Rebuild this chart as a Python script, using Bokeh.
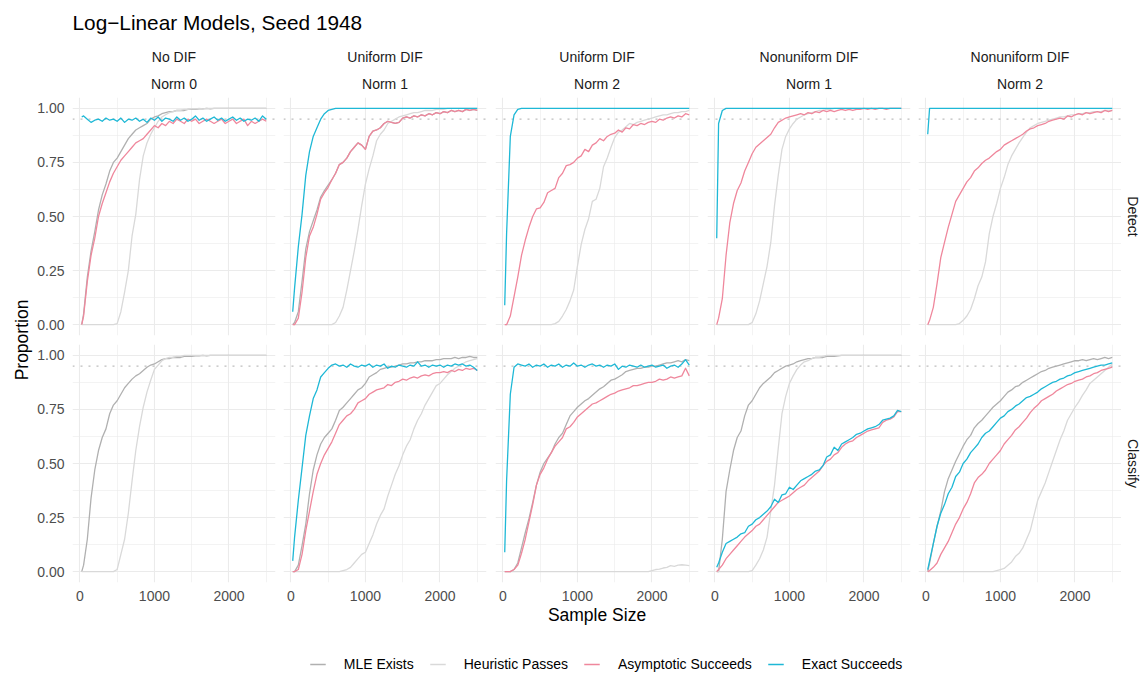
import math
from bokeh.plotting import figure
from bokeh.models import Range1d, FixedTicker, PrintfTickFormatter, Span, Title, Legend, LegendItem
from bokeh.layouts import row, column
from bokeh.embed import file_html
from bokeh.resources import INLINE
from bokeh.core.properties import value

# ---------------- data ----------------
sample_size = [25, 50, 100, 150, 200, 250, 300, 350, 400, 450,
               500, 550, 600, 650, 700, 750, 800, 850, 900, 950,
               1000, 1050, 1100, 1150, 1200, 1250, 1300, 1350, 1400, 1450,
               1500, 1550, 1600, 1650, 1700, 1750, 1800, 1850, 1900, 1950,
               2000, 2050, 2100, 2150, 2200, 2250, 2300, 2350, 2400, 2450, 2500]

facet_dif = ["No DIF", "Uniform DIF", "Uniform DIF", "Nonuniform DIF", "Nonuniform DIF"]
facet_norm = ["Norm 0", "Norm 1", "Norm 2", "Norm 1", "Norm 2"]
facet_task = ["Detect", "Classify"]
series_names = ["MLE Exists", "Heuristic Passes", "Asymptotic Succeeds", "Exact Succeeds"]
series_colors = ["#B0B0B0", "#D9D9D9", "#EF879C", "#1EB8D6"]
y_ticks = [0.0, 0.25, 0.5, 0.75, 1.0]
y_minor = [0.125, 0.375, 0.625, 0.875]
x_ticks = [0, 1000, 2000]
x_minor = [500, 1500, 2500]
nominal_level = 0.95

# Detect row
det1_mle = [0.00, 0.05, 0.22, 0.34, 0.43, 0.53, 0.60, 0.65, 0.71, 0.75,
            0.77, 0.80, 0.83, 0.86, 0.88, 0.90, 0.91, 0.92, 0.93, 0.95,
            0.96, 0.965, 0.975, 0.98, 0.985, 0.985, 0.99, 0.99, 0.99, 0.995,
            0.995, 0.995, 0.997, 0.997, 1.0, 0.997, 1.0, 1.0, 1.0, 1.0,
            1.0, 1.0, 1.0, 1.0, 1.0, 1.0, 1.0, 1.0, 1.0, 1.0, 1.0]
det1_heur = [0, 0, 0, 0, 0, 0, 0, 0, 0, 0,
             0.005, 0.06, 0.15, 0.25, 0.41, 0.51, 0.67, 0.78, 0.84, 0.88,
             0.91, 0.94, 0.96, 0.97, 0.98, 0.985, 0.99, 0.99, 0.995, 0.995,
             0.997, 0.997, 1.0, 0.997, 1.0, 1.0, 1.0, 1.0, 1.0, 1.0,
             1.0, 1.0, 1.0, 1.0, 1.0, 1.0, 1.0, 1.0, 1.0, 1.0, 1.0]
det1_asym = [0.00, 0.04, 0.20, 0.32, 0.40, 0.50, 0.56, 0.61, 0.66, 0.70,
             0.73, 0.76, 0.78, 0.80, 0.82, 0.84, 0.85, 0.86, 0.88, 0.90,
             0.92, 0.91, 0.93, 0.92, 0.94, 0.93, 0.95, 0.94, 0.93, 0.95,
             0.94, 0.95, 0.93, 0.94, 0.95, 0.94, 0.93, 0.94, 0.95, 0.93,
             0.94, 0.95, 0.93, 0.94, 0.95, 0.92, 0.94, 0.93, 0.94, 0.95, 0.94]
det1_exact = [0.96, 0.965, 0.95, 0.935, 0.945, 0.95, 0.94, 0.955, 0.945, 0.95,
              0.94, 0.955, 0.935, 0.95, 0.945, 0.955, 0.94, 0.95, 0.935, 0.955,
              0.945, 0.96, 0.94, 0.955, 0.95, 0.94, 0.96, 0.945, 0.955, 0.94,
              0.95, 0.965, 0.945, 0.955, 0.94, 0.95, 0.96, 0.945, 0.955, 0.94,
              0.95, 0.96, 0.945, 0.955, 0.94, 0.95, 0.945, 0.955, 0.94, 0.965, 0.95]

det2_mle = [0.00, 0.01, 0.06, 0.20, 0.35, 0.43, 0.48, 0.53, 0.59, 0.62,
            0.645, 0.67, 0.70, 0.74, 0.75, 0.77, 0.80, 0.82, 0.84, 0.83,
            0.81, 0.87, 0.895, 0.90, 0.91, 0.93, 0.94, 0.935, 0.93, 0.935,
            0.955, 0.96, 0.955, 0.965, 0.96, 0.97, 0.965, 0.975, 0.97, 0.98,
            0.975, 0.985, 0.98, 0.99, 0.985, 0.99, 0.985, 0.995, 0.99, 0.995, 0.99]
det2_heur = [0, 0, 0, 0, 0, 0, 0, 0, 0, 0,
             0, 0, 0.01, 0.04, 0.08, 0.16, 0.25, 0.34, 0.44, 0.55,
             0.65, 0.72, 0.78, 0.85, 0.88, 0.90, 0.93, 0.94, 0.95, 0.96,
             0.965, 0.97, 0.975, 0.98, 0.98, 0.985, 0.99, 0.99, 0.99, 0.995,
             0.995, 0.995, 1.0, 1.0, 1.0, 1.0, 1.0, 1.0, 1.0, 1.0, 1.0]
det2_asym = [0.00, 0.00, 0.03, 0.15, 0.31, 0.41, 0.45, 0.51, 0.58, 0.61,
             0.635, 0.67, 0.70, 0.74, 0.75, 0.77, 0.80, 0.82, 0.84, 0.83,
             0.81, 0.87, 0.895, 0.90, 0.91, 0.93, 0.94, 0.935, 0.93, 0.935,
             0.955, 0.96, 0.955, 0.965, 0.96, 0.97, 0.965, 0.975, 0.97, 0.98,
             0.975, 0.985, 0.98, 0.99, 0.985, 0.99, 0.985, 0.995, 0.99, 0.995, 0.99]
det2_exact = [0.06, 0.17, 0.36, 0.51, 0.69, 0.80, 0.87, 0.91, 0.95, 0.975,
              0.99, 0.995, 1.0, 1.0, 1.0, 1.0, 1.0, 1.0, 1.0, 1.0,
              1.0, 1.0, 1.0, 1.0, 1.0, 1.0, 1.0, 1.0, 1.0, 1.0,
              1.0, 1.0, 1.0, 1.0, 1.0, 1.0, 1.0, 1.0, 1.0, 1.0,
              1.0, 1.0, 1.0, 1.0, 1.0, 1.0, 1.0, 1.0, 1.0, 1.0, 1.0]

det3_heur = [0, 0, 0, 0, 0, 0, 0, 0, 0, 0,
             0, 0, 0, 0, 0.005, 0.015, 0.04, 0.07, 0.11, 0.16,
             0.27, 0.37, 0.44, 0.49, 0.57, 0.58, 0.63, 0.73, 0.77, 0.82,
             0.865, 0.89, 0.90, 0.915, 0.93, 0.925, 0.935, 0.94, 0.945, 0.95,
             0.955, 0.96, 0.965, 0.97, 0.97, 0.975, 0.98, 0.98, 0.985, 0.985, 0.99]
det3_asym = [0.00, 0.00, 0.04, 0.13, 0.22, 0.32, 0.39, 0.45, 0.50, 0.535,
             0.54, 0.565, 0.61, 0.62, 0.63, 0.68, 0.70, 0.735, 0.74, 0.75,
             0.77, 0.78, 0.81, 0.80, 0.83, 0.84, 0.86, 0.85, 0.87, 0.88,
             0.885, 0.90, 0.89, 0.91, 0.905, 0.925, 0.92, 0.93, 0.925, 0.935,
             0.94, 0.935, 0.95, 0.945, 0.955, 0.96, 0.955, 0.965, 0.96, 0.975, 0.97]
det3_exact = [0.09, 0.42, 0.87, 0.97, 0.995, 1.0, 1.0, 1.0, 1.0, 1.0,
              1.0, 1.0, 1.0, 1.0, 1.0, 1.0, 1.0, 1.0, 1.0, 1.0,
              1.0, 1.0, 1.0, 1.0, 1.0, 1.0, 1.0, 1.0, 1.0, 1.0,
              1.0, 1.0, 1.0, 1.0, 1.0, 1.0, 1.0, 1.0, 1.0, 1.0,
              1.0, 1.0, 1.0, 1.0, 1.0, 1.0, 1.0, 1.0, 1.0, 1.0, 1.0]

det4_heur = [0, 0, 0, 0, 0, 0, 0, 0, 0, 0,
             0.01, 0.05, 0.11, 0.19, 0.27, 0.38, 0.55, 0.69, 0.81, 0.87,
             0.905, 0.93, 0.95, 0.96, 0.97, 0.975, 0.98, 0.985, 0.99, 0.99,
             0.995, 0.995, 1.0, 1.0, 1.0, 1.0, 1.0, 1.0, 1.0, 1.0,
             1.0, 1.0, 1.0, 1.0, 1.0, 1.0, 1.0, 1.0, 1.0, 1.0, 1.0]
det4_asym = [0.00, 0.03, 0.12, 0.32, 0.47, 0.56, 0.62, 0.655, 0.71, 0.75,
             0.79, 0.82, 0.835, 0.85, 0.865, 0.88, 0.91, 0.935, 0.945, 0.955,
             0.96, 0.965, 0.97, 0.975, 0.97, 0.98, 0.975, 0.985, 0.98, 0.99,
             0.985, 0.99, 0.985, 0.99, 0.995, 0.99, 0.995, 0.99, 0.995, 0.995,
             1.0, 0.995, 1.0, 0.995, 1.0, 1.0, 0.995, 1.0, 1.0, 1.0, 1.0]
det4_exact = [0.40, 0.93, 0.99, 1.0, 1.0, 1.0, 1.0, 1.0, 1.0, 1.0,
              1.0, 1.0, 1.0, 1.0, 1.0, 1.0, 1.0, 1.0, 1.0, 1.0,
              1.0, 1.0, 1.0, 1.0, 1.0, 1.0, 1.0, 1.0, 1.0, 1.0,
              1.0, 1.0, 1.0, 1.0, 1.0, 1.0, 1.0, 1.0, 1.0, 1.0,
              1.0, 1.0, 1.0, 1.0, 1.0, 1.0, 1.0, 1.0, 1.0, 1.0, 1.0]

det5_heur = [0, 0, 0, 0, 0, 0, 0, 0, 0, 0.005,
             0.02, 0.04, 0.07, 0.12, 0.18, 0.22, 0.29, 0.42, 0.50, 0.56,
             0.63, 0.68, 0.74, 0.78, 0.81, 0.84, 0.866, 0.89, 0.91, 0.92,
             0.93, 0.935, 0.94, 0.945, 0.95, 0.955, 0.96, 0.96, 0.965, 0.97,
             0.97, 0.975, 0.975, 0.98, 0.98, 0.985, 0.985, 0.985, 0.99, 0.99, 0.99]
det5_asym = [0.00, 0.02, 0.08, 0.19, 0.31, 0.38, 0.45, 0.51, 0.57, 0.60,
             0.63, 0.66, 0.68, 0.71, 0.725, 0.745, 0.76, 0.77, 0.785, 0.80,
             0.81, 0.83, 0.84, 0.85, 0.86, 0.87, 0.88, 0.895, 0.905, 0.91,
             0.92, 0.925, 0.93, 0.94, 0.945, 0.95, 0.955, 0.95, 0.965, 0.96,
             0.97, 0.975, 0.97, 0.98, 0.975, 0.98, 0.985, 0.98, 0.99, 0.985, 0.99]
det5_exact = [0.88, 1.0, 1.0, 1.0, 1.0, 1.0, 1.0, 1.0, 1.0, 1.0,
              1.0, 1.0, 1.0, 1.0, 1.0, 1.0, 1.0, 1.0, 1.0, 1.0,
              1.0, 1.0, 1.0, 1.0, 1.0, 1.0, 1.0, 1.0, 1.0, 1.0,
              1.0, 1.0, 1.0, 1.0, 1.0, 1.0, 1.0, 1.0, 1.0, 1.0,
              1.0, 1.0, 1.0, 1.0, 1.0, 1.0, 1.0, 1.0, 1.0, 1.0, 1.0]

# Classify row
cls1_mle = [0.00, 0.03, 0.15, 0.34, 0.47, 0.56, 0.62, 0.66, 0.73, 0.77,
            0.79, 0.82, 0.85, 0.87, 0.89, 0.905, 0.915, 0.93, 0.945, 0.955,
            0.96, 0.97, 0.98, 0.985, 0.985, 0.99, 0.99, 0.99, 0.995, 0.995,
            0.995, 0.997, 0.997, 1.0, 0.997, 1.0, 1.0, 1.0, 1.0, 1.0,
            1.0, 1.0, 1.0, 1.0, 1.0, 1.0, 1.0, 1.0, 1.0, 1.0, 1.0]
cls1_heur = [0, 0, 0, 0, 0, 0, 0, 0, 0, 0,
             0.01, 0.08, 0.15, 0.27, 0.42, 0.56, 0.67, 0.76, 0.83, 0.885,
             0.935, 0.955, 0.975, 0.985, 0.99, 0.99, 0.995, 0.995, 1.0, 1.0,
             1.0, 1.0, 1.0, 1.0, 1.0, 1.0, 1.0, 1.0, 1.0, 1.0,
             1.0, 1.0, 1.0, 1.0, 1.0, 1.0, 1.0, 1.0, 1.0, 1.0, 1.0]

cls2_mle = [0.00, 0.00, 0.03, 0.12, 0.22, 0.36, 0.47, 0.54, 0.59, 0.62,
            0.64, 0.66, 0.70, 0.745, 0.76, 0.78, 0.80, 0.82, 0.84, 0.85,
            0.87, 0.90, 0.91, 0.92, 0.935, 0.94, 0.945, 0.945, 0.95, 0.955,
            0.96, 0.96, 0.965, 0.965, 0.97, 0.97, 0.975, 0.975, 0.975, 0.98,
            0.98, 0.985, 0.985, 0.985, 0.99, 0.985, 0.99, 0.99, 0.995, 0.99, 0.99]
cls2_heur = [0, 0, 0, 0, 0, 0, 0, 0, 0, 0,
             0, 0, 0, 0, 0.005, 0.01, 0.02, 0.04, 0.06, 0.08,
             0.09, 0.13, 0.17, 0.22, 0.26, 0.29, 0.35, 0.40, 0.45, 0.49,
             0.54, 0.58, 0.61, 0.66, 0.70, 0.73, 0.77, 0.80, 0.83, 0.86,
             0.87, 0.89, 0.91, 0.925, 0.94, 0.95, 0.96, 0.97, 0.975, 0.98, 0.985]
cls2_asym = [0.00, 0.00, 0.01, 0.08, 0.19, 0.28, 0.37, 0.45, 0.50, 0.54,
             0.57, 0.60, 0.64, 0.68, 0.70, 0.72, 0.73, 0.75, 0.78, 0.79,
             0.80, 0.82, 0.83, 0.84, 0.845, 0.85, 0.865, 0.86, 0.875, 0.88,
             0.89, 0.885, 0.895, 0.90, 0.895, 0.905, 0.91, 0.905, 0.915, 0.92,
             0.92, 0.925, 0.92, 0.93, 0.925, 0.935, 0.93, 0.94, 0.935, 0.94, 0.93]
cls2_exact = [0.05, 0.16, 0.33, 0.48, 0.63, 0.72, 0.80, 0.84, 0.90, 0.92,
              0.94, 0.955, 0.96, 0.95, 0.955, 0.945, 0.96, 0.95, 0.945, 0.955,
              0.95, 0.96, 0.945, 0.955, 0.95, 0.96, 0.94, 0.95, 0.945, 0.955,
              0.95, 0.945, 0.955, 0.95, 0.97, 0.95, 0.955, 0.945, 0.955, 0.95,
              0.955, 0.945, 0.955, 0.95, 0.96, 0.955, 0.96, 0.95, 0.955, 0.945, 0.93]

cls3_mle = [0.00, 0.00, 0.00, 0.01, 0.04, 0.11, 0.18, 0.245, 0.32, 0.40,
            0.46, 0.50, 0.525, 0.55, 0.59, 0.62, 0.64, 0.68, 0.72, 0.74,
            0.76, 0.775, 0.79, 0.80, 0.815, 0.83, 0.845, 0.855, 0.87, 0.885,
            0.89, 0.90, 0.91, 0.925, 0.93, 0.935, 0.94, 0.94, 0.945, 0.945,
            0.95, 0.95, 0.955, 0.96, 0.965, 0.965, 0.97, 0.975, 0.97, 0.98, 0.975]
cls3_heur = [0, 0, 0, 0, 0, 0, 0, 0, 0, 0,
             0, 0, 0, 0, 0, 0, 0, 0, 0, 0,
             0, 0, 0, 0, 0, 0, 0, 0, 0, 0,
             0, 0, 0, 0, 0, 0, 0, 0, 0, 0,
             0.005, 0.01, 0.012, 0.017, 0.02, 0.028, 0.025, 0.03, 0.032, 0.03, 0.028]
cls3_asym = [0.00, 0.00, 0.00, 0.01, 0.03, 0.085, 0.15, 0.23, 0.31, 0.40,
             0.45, 0.48, 0.52, 0.55, 0.58, 0.60, 0.62, 0.66, 0.67, 0.69,
             0.715, 0.73, 0.745, 0.76, 0.775, 0.78, 0.79, 0.80, 0.81, 0.82,
             0.825, 0.835, 0.84, 0.845, 0.85, 0.86, 0.86, 0.865, 0.87, 0.875,
             0.875, 0.88, 0.89, 0.885, 0.89, 0.90, 0.895, 0.90, 0.905, 0.94, 0.905]
cls3_exact = [0.09, 0.42, 0.82, 0.945, 0.96, 0.955, 0.95, 0.96, 0.945, 0.955,
              0.95, 0.96, 0.945, 0.955, 0.95, 0.96, 0.945, 0.955, 0.95, 0.965,
              0.95, 0.955, 0.945, 0.955, 0.96, 0.95, 0.955, 0.945, 0.955, 0.95,
              0.96, 0.935, 0.95, 0.945, 0.955, 0.95, 0.945, 0.955, 0.945, 0.95,
              0.955, 0.945, 0.95, 0.955, 0.94, 0.95, 0.955, 0.945, 0.96, 0.98, 0.955]

cls4_mle = [0.00, 0.00, 0.15, 0.37, 0.47, 0.56, 0.62, 0.65, 0.72, 0.77,
            0.79, 0.82, 0.85, 0.87, 0.885, 0.90, 0.92, 0.93, 0.94, 0.95,
            0.955, 0.96, 0.97, 0.975, 0.98, 0.985, 0.985, 0.99, 0.99, 0.99,
            0.995, 0.995, 0.995, 0.997, 1.0, 1.0, 1.0, 1.0, 1.0, 1.0,
            1.0, 1.0, 1.0, 1.0, 1.0, 1.0, 1.0, 1.0, 1.0, 1.0, 1.0]
cls4_heur = [0, 0, 0, 0, 0, 0, 0, 0, 0, 0,
             0.005, 0.03, 0.06, 0.10, 0.16, 0.28, 0.40, 0.57, 0.73, 0.81,
             0.87, 0.905, 0.935, 0.955, 0.97, 0.975, 0.985, 0.99, 0.99, 0.995,
             1.0, 1.0, 1.0, 1.0, 1.0, 1.0, 1.0, 1.0, 1.0, 1.0,
             1.0, 1.0, 1.0, 1.0, 1.0, 1.0, 1.0, 1.0, 1.0, 1.0, 1.0]
cls4_asym = [0.00, 0.01, 0.03, 0.06, 0.08, 0.10, 0.12, 0.14, 0.16, 0.175,
             0.19, 0.21, 0.22, 0.24, 0.26, 0.28, 0.30, 0.32, 0.33, 0.34,
             0.35, 0.365, 0.38, 0.39, 0.40, 0.42, 0.435, 0.45, 0.465, 0.49,
             0.51, 0.52, 0.54, 0.55, 0.575, 0.59, 0.60, 0.605, 0.62, 0.63,
             0.64, 0.65, 0.655, 0.66, 0.665, 0.69, 0.70, 0.705, 0.715, 0.74, 0.74]
cls4_exact = [0.02, 0.04, 0.09, 0.13, 0.14, 0.15, 0.16, 0.175, 0.18, 0.21,
              0.22, 0.24, 0.25, 0.265, 0.28, 0.30, 0.335, 0.32, 0.355, 0.36,
              0.39, 0.38, 0.40, 0.42, 0.43, 0.44, 0.45, 0.465, 0.47, 0.49,
              0.53, 0.54, 0.575, 0.56, 0.59, 0.60, 0.61, 0.62, 0.635, 0.64,
              0.65, 0.66, 0.665, 0.67, 0.68, 0.70, 0.705, 0.71, 0.72, 0.745, 0.74]

cls5_mle = [0.00, 0.04, 0.13, 0.21, 0.28, 0.37, 0.43, 0.47, 0.51, 0.545,
            0.58, 0.61, 0.63, 0.665, 0.685, 0.70, 0.72, 0.74, 0.76, 0.775,
            0.79, 0.81, 0.83, 0.84, 0.855, 0.86, 0.875, 0.885, 0.895, 0.905,
            0.915, 0.925, 0.93, 0.94, 0.945, 0.95, 0.955, 0.96, 0.965, 0.97,
            0.975, 0.975, 0.98, 0.975, 0.98, 0.985, 0.98, 0.985, 0.99, 0.985, 0.99]
cls5_heur = [0, 0, 0, 0, 0, 0, 0, 0, 0, 0,
             0, 0, 0, 0, 0, 0, 0, 0, 0, 0.005,
             0.01, 0.015, 0.03, 0.045, 0.07, 0.085, 0.11, 0.15, 0.19, 0.26,
             0.33, 0.37, 0.41, 0.46, 0.51, 0.56, 0.61, 0.65, 0.70, 0.73,
             0.76, 0.785, 0.815, 0.84, 0.87, 0.885, 0.90, 0.915, 0.93, 0.945, 0.96]
cls5_asym = [0.00, 0.005, 0.02, 0.04, 0.08, 0.11, 0.14, 0.18, 0.22, 0.25,
             0.29, 0.32, 0.36, 0.41, 0.435, 0.45, 0.47, 0.50, 0.52, 0.54,
             0.56, 0.59, 0.61, 0.63, 0.655, 0.67, 0.69, 0.71, 0.735, 0.755,
             0.77, 0.79, 0.80, 0.81, 0.82, 0.835, 0.845, 0.855, 0.865, 0.87,
             0.88, 0.885, 0.89, 0.90, 0.905, 0.915, 0.92, 0.93, 0.935, 0.94, 0.945]
cls5_exact = [0.01, 0.05, 0.13, 0.21, 0.27, 0.31, 0.36, 0.39, 0.44, 0.46,
              0.50, 0.52, 0.55, 0.57, 0.59, 0.62, 0.64, 0.65, 0.67, 0.69,
              0.71, 0.72, 0.74, 0.75, 0.765, 0.775, 0.79, 0.805, 0.81, 0.82,
              0.83, 0.845, 0.855, 0.865, 0.875, 0.88, 0.89, 0.895, 0.905, 0.91,
              0.92, 0.925, 0.93, 0.935, 0.94, 0.945, 0.95, 0.955, 0.955, 0.96, 0.965]

panel_series = {
    (0, 0): [det1_mle, det1_heur, det1_asym, det1_exact],
    (0, 1): [det2_mle, det2_heur, det2_asym, det2_exact],
    (0, 2): [None, det3_heur, det3_asym, det3_exact],
    (0, 3): [None, det4_heur, det4_asym, det4_exact],
    (0, 4): [None, det5_heur, det5_asym, det5_exact],
    (1, 0): [cls1_mle, cls1_heur, None, None],
    (1, 1): [cls2_mle, cls2_heur, cls2_asym, cls2_exact],
    (1, 2): [cls3_mle, cls3_heur, cls3_asym, cls3_exact],
    (1, 3): [cls4_mle, cls4_heur, cls4_asym, cls4_exact],
    (1, 4): [cls5_mle, cls5_heur, cls5_asym, cls5_exact],
}

# ---------------- styling / layout ----------------
FONT = "Liberation Sans"
FRAME_W, FRAME_H = 203, 238
col_left = [38, 0, 0, 0, 0]
col_right = [8, 9, 9, 8, 0]
row_top = [55, 0]
row_bottom = [9, 46]
GRID = "#EBEBEB"

span_x = max(sample_size) - min(sample_size)
x_lo = min(sample_size) - 0.05 * span_x
x_hi = max(sample_size) + 0.05 * span_x


def style_blank(p):
    p.outline_line_color = None
    p.background_fill_color = "white"
    p.border_fill_color = "white"


def make_panel(r, c):
    p = figure(title=None, frame_width=FRAME_W, frame_height=FRAME_H,
               x_range=Range1d(x_lo, x_hi), y_range=Range1d(-0.05, 1.05),
               toolbar_location=None, output_backend="svg",
               min_border_left=col_left[c], min_border_right=col_right[c],
               min_border_top=row_top[r], min_border_bottom=row_bottom[r])
    style_blank(p)
    xt = FixedTicker(ticks=x_ticks, minor_ticks=x_minor)
    yt = FixedTicker(ticks=y_ticks, minor_ticks=y_minor)
    p.xaxis.ticker = xt
    p.yaxis.ticker = yt
    p.xgrid.ticker = xt
    p.ygrid.ticker = yt
    for g in (p.xgrid, p.ygrid):
        g.grid_line_color = GRID
        g.grid_line_width = 1.1
        g.minor_grid_line_color = GRID
        g.minor_grid_line_width = 0.6
    for ax in (p.xaxis, p.yaxis):
        ax.axis_line_color = None
        ax.major_tick_line_color = None
        ax.minor_tick_line_color = None
        ax.major_tick_out = 0
        ax.major_tick_in = 0
        ax.minor_tick_out = 0
        ax.minor_tick_in = 0
        ax.major_label_text_font = FONT
        ax.major_label_text_font_size = "14px"
        ax.major_label_text_color = "#4D4D4D"
    p.yaxis.formatter = PrintfTickFormatter(format="%.2f")
    p.xaxis.formatter = PrintfTickFormatter(format="%d")
    p.yaxis.major_label_standoff = 8
    p.xaxis.major_label_standoff = 8
    p.yaxis.visible = (c == 0)
    p.xaxis.visible = (r == 1)
    if r == 1 and c == 2:
        p.xaxis.axis_label = "Sample Size"
        p.xaxis.axis_label_text_font = FONT
        p.xaxis.axis_label_text_font_size = "17.5px"
        p.xaxis.axis_label_text_font_style = "normal"
        p.xaxis.axis_label_text_color = "#000000"
        p.xaxis.axis_label_standoff = 1

    p.add_layout(Span(location=nominal_level, dimension="width", line_color="#BDBDBD",
                      line_dash="2 6", line_width=1.1, level="underlay"))

    for name, color, ys in zip(series_names, series_colors, panel_series[(r, c)]):
        if ys is None:
            continue
        p.line(x=sample_size, y=ys, line_color=color, line_width=1.3, line_join="round")

    if r == 0:
        p.add_layout(Title(text=facet_norm[c], align="center", text_font=FONT,
                           text_font_size="14px", text_font_style="normal",
                           text_color="#1A1A1A", standoff=12), "above")
        p.add_layout(Title(text=facet_dif[c], align="center", text_font=FONT,
                           text_font_size="14px", text_font_style="normal",
                           text_color="#1A1A1A", standoff=6), "above")
    return p


def make_strip(r):
    s = figure(title=None, frame_width=16, frame_height=FRAME_H,
               x_range=Range1d(-1, 1), y_range=Range1d(-0.05, 1.05),
               toolbar_location=None, output_backend="svg",
               min_border_left=3, min_border_right=0,
               min_border_top=row_top[r], min_border_bottom=row_bottom[r])
    style_blank(s)
    s.axis.visible = False
    s.grid.visible = False
    s.text(x=[0], y=[0.5], text=[facet_task[r]], angle=-math.pi / 2,
           text_align="center", text_baseline="middle",
           text_font=value(FONT), text_font_size="14px", text_color="#1A1A1A")
    return s


# y-axis title spanning both rows
ylab = figure(title=None, frame_width=25, frame_height=FRAME_H * 2 + row_bottom[0] + row_top[1],
              x_range=Range1d(-1, 1), y_range=Range1d(0, 1),
              toolbar_location=None, output_backend="svg",
              min_border_left=9, min_border_right=0,
              min_border_top=row_top[0], min_border_bottom=row_bottom[1])
style_blank(ylab)
ylab.axis.visible = False
ylab.grid.visible = False
ylab.text(x=[0], y=[0.5], text=["Proportion"], angle=math.pi / 2,
          text_align="center", text_baseline="middle",
          text_font=value(FONT), text_font_size="17.5px", text_color="#000000")

rows = []
for r in range(2):
    figs = [make_panel(r, c) for c in range(5)]
    figs.append(make_strip(r))
    rows.append(row(*figs))

# header with main title
header = figure(title="Log\u2212Linear Models, Seed 1948", width=1140, height=42,
                toolbar_location=None, output_backend="svg",
                x_range=Range1d(0, 1), y_range=Range1d(0, 1),
                min_border_left=72, min_border_right=0, min_border_top=34, min_border_bottom=0)
style_blank(header)
header.axis.visible = False
header.grid.visible = False
header.title.text_font = FONT
header.title.text_font_size = "20.8px"
header.title.text_font_style = "normal"
header.title.text_color = "#000000"
header.title.standoff = 1

# legend strip (keys drawn from off-screen sample lines)
leg = figure(title=None, width=1140, height=44, toolbar_location=None, output_backend="svg",
             x_range=Range1d(0, 1), y_range=Range1d(0, 1),
             min_border_left=62, min_border_right=0, min_border_top=0, min_border_bottom=0)
style_blank(leg)
leg.axis.visible = False
leg.grid.visible = False
items = []
for name, color in zip(series_names, series_colors):
    rr = leg.line(x=[2, 3], y=[2, 3], line_color=color, line_width=1.3)
    items.append(LegendItem(label=name, renderers=[rr]))
legend = Legend(items=items, orientation="horizontal", location="bottom_center",
                label_text_font=FONT, label_text_font_size="14px", label_text_color="#000000",
                glyph_width=16, glyph_height=14, label_height=14, label_standoff=18,
                spacing=16, padding=0, margin=0, border_line_color=None,
                background_fill_alpha=0)
leg.add_layout(legend)

layout = column(header, row(ylab, column(*rows)), leg)

open("out.html", "w").write(file_html(layout, INLINE))
